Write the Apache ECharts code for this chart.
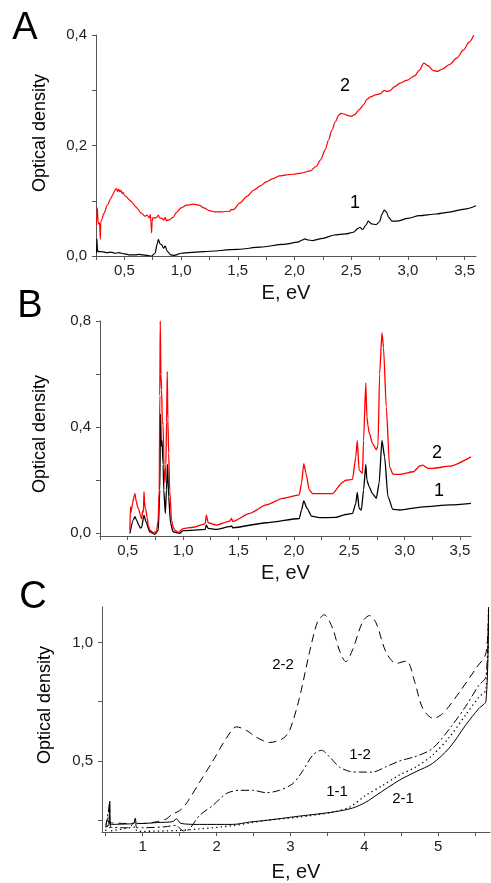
<!DOCTYPE html>
<html>
<head>
<meta charset="utf-8">
<script src="https://cdn.jsdelivr.net/npm/echarts@6/dist/echarts.min.js"></script>
<style>
  html, body { margin: 0; padding: 0; background: #fff; }
  #chart { width: 491px; height: 883px; }
</style>
</head>
<body>
<div id="chart"></div>
<script>
// ---- Panel A: absorption spectra, sample 1 (black) and sample 2 (red)
const aE1  = [0.255, 0.258, 0.262, 0.27, 0.30, 0.35, 0.38, 0.42, 0.45, 0.50, 0.55, 0.60, 0.63, 0.66, 0.70, 0.74, 0.77, 0.79, 0.80, 0.815, 0.83, 0.845, 0.86, 0.88, 0.91, 0.94, 1.0, 1.2, 1.5, 1.7, 1.9, 2.03, 2.07, 2.09, 2.12, 2.16, 2.25, 2.35, 2.45, 2.52, 2.56, 2.575, 2.60, 2.63, 2.65, 2.68, 2.72, 2.75, 2.77, 2.79, 2.81, 2.83, 2.86, 2.90, 3.0, 3.1, 3.25, 3.35, 3.5, 3.6];
const aOD1 = [0.005, 0.031, 0.012, 0.008, 0.008, 0.006, 0.007, 0.005, 0.006, 0.004, 0.002, 0.002, 0.003, 0.002, 0.001, 0.000, 0.005, 0.022, 0.030, 0.022, 0.020, 0.014, 0.018, 0.008, 0.002, 0.001, 0.005, 0.008, 0.012, 0.016, 0.021, 0.025, 0.029, 0.031, 0.029, 0.028, 0.032, 0.038, 0.040, 0.043, 0.050, 0.052, 0.048, 0.056, 0.063, 0.058, 0.057, 0.062, 0.075, 0.083, 0.080, 0.070, 0.063, 0.063, 0.068, 0.073, 0.076, 0.079, 0.085, 0.091];
const aE2  = [0.255, 0.258, 0.262, 0.268, 0.275, 0.282, 0.288, 0.292, 0.30, 0.32, 0.35, 0.38, 0.40, 0.42, 0.43, 0.44, 0.45, 0.46, 0.47, 0.48, 0.49, 0.50, 0.52, 0.54, 0.56, 0.58, 0.60, 0.62, 0.64, 0.66, 0.68, 0.70, 0.72, 0.73, 0.735, 0.74, 0.745, 0.75, 0.78, 0.80, 0.81, 0.83, 0.85, 0.86, 0.87, 0.90, 0.93, 0.96, 1.00, 1.05, 1.11, 1.16, 1.20, 1.25, 1.30, 1.36, 1.43, 1.44, 1.46, 1.52, 1.58, 1.64, 1.70, 1.75, 1.81, 1.87, 1.93, 1.99, 2.06, 2.14, 2.19, 2.23, 2.27, 2.30, 2.33, 2.36, 2.39, 2.41, 2.44, 2.47, 2.50, 2.53, 2.57, 2.61, 2.64, 2.67, 2.72, 2.76, 2.78, 2.79, 2.81, 2.84, 2.88, 2.93, 2.99, 3.06, 3.10, 3.14, 3.18, 3.22, 3.26, 3.30, 3.37, 3.43, 3.49, 3.54, 3.58];
const aOD2 = [0.056, 0.075, 0.087, 0.062, 0.058, 0.060, 0.030, 0.062, 0.066, 0.077, 0.092, 0.104, 0.112, 0.120, 0.122, 0.117, 0.121, 0.116, 0.119, 0.113, 0.115, 0.110, 0.107, 0.102, 0.099, 0.094, 0.089, 0.085, 0.079, 0.076, 0.072, 0.074, 0.069, 0.075, 0.060, 0.042, 0.062, 0.069, 0.069, 0.074, 0.069, 0.068, 0.065, 0.070, 0.064, 0.066, 0.070, 0.079, 0.087, 0.092, 0.094, 0.092, 0.087, 0.082, 0.080, 0.080, 0.081, 0.084, 0.084, 0.096, 0.108, 0.119, 0.127, 0.134, 0.140, 0.145, 0.147, 0.148, 0.150, 0.154, 0.162, 0.174, 0.192, 0.210, 0.228, 0.243, 0.255, 0.258, 0.257, 0.254, 0.253, 0.256, 0.265, 0.274, 0.284, 0.288, 0.292, 0.294, 0.298, 0.300, 0.298, 0.299, 0.306, 0.313, 0.318, 0.326, 0.336, 0.349, 0.344, 0.336, 0.334, 0.338, 0.347, 0.358, 0.373, 0.387, 0.400];

// ---- Panel B
const bE1  = [0.52, 0.55, 0.566, 0.58, 0.60, 0.615, 0.626, 0.647, 0.665, 0.70, 0.745, 0.776, 0.79, 0.797, 0.803, 0.81, 0.82, 0.826, 0.84, 0.85, 0.86, 0.87, 0.887, 0.91, 0.97, 1.0, 1.2, 1.21, 1.227, 1.3, 1.42, 1.437, 1.45, 1.75, 2.05, 2.07, 2.09, 2.12, 2.16, 2.23, 2.38, 2.47, 2.53, 2.56, 2.573, 2.59, 2.61, 2.63, 2.65, 2.66, 2.68, 2.71, 2.745, 2.77, 2.796, 2.82, 2.85, 2.895, 2.955, 3.165, 3.41, 3.6];
const bOD1 = [0.000, 0.050, 0.063, 0.050, 0.031, 0.020, 0.022, 0.069, 0.044, 0.006, -0.004, 0.012, 0.163, 0.450, 0.330, 0.350, 0.260, 0.163, 0.075, 0.163, 0.260, 0.138, 0.038, 0.006, 0.000, 0.010, 0.015, 0.031, 0.019, 0.015, 0.025, 0.028, 0.021, 0.040, 0.056, 0.088, 0.122, 0.094, 0.065, 0.059, 0.060, 0.071, 0.075, 0.113, 0.154, 0.094, 0.088, 0.163, 0.260, 0.200, 0.176, 0.150, 0.132, 0.188, 0.350, 0.288, 0.138, 0.090, 0.088, 0.100, 0.107, 0.113];
const bE2  = [0.52, 0.525, 0.53, 0.535, 0.545, 0.555, 0.566, 0.575, 0.59, 0.60, 0.615, 0.626, 0.635, 0.642, 0.647, 0.652, 0.658, 0.665, 0.675, 0.686, 0.70, 0.73, 0.76, 0.775, 0.785, 0.79, 0.794, 0.80, 0.806, 0.813, 0.82, 0.828, 0.836, 0.845, 0.851, 0.857, 0.863, 0.87, 0.88, 0.896, 0.91, 0.926, 0.956, 1.0, 1.09, 1.2, 1.21, 1.227, 1.3, 1.42, 1.437, 1.45, 1.6, 1.75, 1.9, 2.05, 2.07, 2.09, 2.11, 2.14, 2.17, 2.35, 2.44, 2.47, 2.53, 2.56, 2.573, 2.59, 2.62, 2.63, 2.65, 2.66, 2.67, 2.68, 2.71, 2.745, 2.76, 2.775, 2.796, 2.81, 2.835, 2.865, 2.895, 2.955, 3.08, 3.135, 3.165, 3.21, 3.255, 3.41, 3.6];
const bOD2 = [0.012, 0.100, 0.080, 0.090, 0.115, 0.135, 0.150, 0.125, 0.100, 0.090, 0.068, 0.055, 0.085, 0.080, 0.157, 0.120, 0.095, 0.088, 0.060, 0.030, 0.012, 0.003, 0.006, 0.050, 0.165, 0.520, 0.800, 0.600, 0.540, 0.420, 0.410, 0.250, 0.190, 0.260, 0.420, 0.610, 0.430, 0.300, 0.160, 0.050, 0.025, 0.012, 0.003, 0.018, 0.023, 0.036, 0.069, 0.040, 0.031, 0.046, 0.056, 0.044, 0.075, 0.107, 0.132, 0.145, 0.190, 0.263, 0.226, 0.163, 0.150, 0.150, 0.192, 0.200, 0.203, 0.288, 0.350, 0.238, 0.226, 0.350, 0.567, 0.440, 0.405, 0.380, 0.339, 0.315, 0.330, 0.600, 0.756, 0.700, 0.476, 0.250, 0.223, 0.222, 0.232, 0.253, 0.257, 0.245, 0.245, 0.253, 0.288];

// ---- Panel C: four spectra
const cE22  = [0.50, 0.53, 0.55, 0.56, 0.60, 0.80, 0.88, 0.90, 0.92, 1.00, 1.20, 1.32, 1.40, 1.50, 1.59, 1.77, 1.95, 2.13, 2.27, 2.40, 2.54, 2.72, 2.90, 2.99, 3.12, 3.26, 3.37, 3.46, 3.57, 3.66, 3.75, 3.84, 3.98, 4.07, 4.16, 4.29, 4.43, 4.57, 4.68, 4.79, 4.93, 5.06, 5.29, 5.51, 5.645, 5.68];
const cOD22 = [0.230, 0.260, 0.326, 0.240, 0.238, 0.236, 0.238, 0.255, 0.237, 0.236, 0.244, 0.255, 0.275, 0.290, 0.320, 0.410, 0.500, 0.595, 0.644, 0.630, 0.600, 0.578, 0.595, 0.630, 0.764, 0.962, 1.090, 1.117, 1.060, 0.969, 0.919, 0.969, 1.090, 1.114, 1.082, 0.962, 0.912, 0.922, 0.835, 0.722, 0.680, 0.700, 0.792, 0.891, 0.955, 1.150];
const cE12  = [0.50, 0.55, 0.57, 0.80, 0.90, 0.92, 1.00, 1.30, 1.45, 1.55, 1.60, 1.77, 1.95, 2.13, 2.31, 2.49, 2.67, 2.85, 3.03, 3.17, 3.30, 3.42, 3.53, 3.66, 3.80, 3.93, 4.11, 4.29, 4.47, 4.70, 4.92, 5.15, 5.37, 5.55, 5.645, 5.68];
const cOD12 = [0.220, 0.300, 0.220, 0.218, 0.240, 0.218, 0.218, 0.222, 0.228, 0.205, 0.206, 0.270, 0.312, 0.362, 0.376, 0.376, 0.366, 0.376, 0.404, 0.460, 0.524, 0.545, 0.517, 0.475, 0.456, 0.453, 0.453, 0.475, 0.499, 0.520, 0.552, 0.635, 0.730, 0.820, 0.855, 1.150];
const cE11  = [0.50, 0.55, 0.57, 0.90, 0.92, 1.00, 1.455, 1.77, 2.22, 2.67, 3.12, 3.57, 3.80, 4.02, 4.25, 4.47, 4.70, 4.92, 5.15, 5.37, 5.55, 5.645, 5.68];
const cOD11 = [0.205, 0.250, 0.205, 0.220, 0.205, 0.203, 0.206, 0.213, 0.227, 0.249, 0.263, 0.284, 0.305, 0.355, 0.397, 0.440, 0.475, 0.524, 0.600, 0.694, 0.770, 0.800, 1.150];
const cE21  = [0.50, 0.54, 0.555, 0.565, 0.60, 0.80, 0.88, 0.90, 0.92, 1.00, 1.20, 1.41, 1.455, 1.52, 1.77, 2.22, 2.45, 2.67, 3.12, 3.57, 3.84, 4.02, 4.16, 4.47, 4.70, 4.92, 5.15, 5.37, 5.55, 5.645, 5.68];
const cOD21 = [0.220, 0.230, 0.330, 0.230, 0.232, 0.234, 0.236, 0.258, 0.236, 0.236, 0.240, 0.244, 0.256, 0.236, 0.232, 0.232, 0.242, 0.249, 0.267, 0.284, 0.301, 0.326, 0.355, 0.418, 0.455, 0.489, 0.555, 0.651, 0.722, 0.752, 1.150];

// Tick and label positions for each axis
const aXTicks = [0.25, 0.5, 0.75, 1.0, 1.25, 1.5, 1.75, 2.0, 2.25, 2.5, 2.75, 3.0, 3.25, 3.5];
const aXLabels = [0.5, 1.0, 1.5, 2.0, 2.5, 3.0, 3.5];
const aYTicks = [0, 0.1, 0.2, 0.3, 0.4];
const aYLabels = [0, 0.2, 0.4];
const bYTicks = [0, 0.2, 0.4, 0.6, 0.8];
const bYLabels = [0, 0.4, 0.8];
const cXTicks = [0.5, 1, 1.5, 2, 2.5, 3, 3.5, 4, 4.5, 5, 5.5];
const cXLabels = [1, 2, 3, 4, 5];
const cYTicks = [0.25, 0.5, 0.75, 1.0];
const cYLabels = [0.5, 1.0];

const zip = (xs, ys) => xs.map((x, i) => [x, ys[i]]);
const comma = d => v => v.toFixed(d).replace('.', ',');

const FONT = 'Liberation Sans, Arial, sans-serif';
const AXIS_COLOR = '#555';

function xAxis(grid, min, max, ticks, labels, dec, gap) {
  return {
    type: 'value', gridIndex: grid, min: min, max: max,
    axisLine: { onZero: false, lineStyle: { color: AXIS_COLOR, width: 1 } },
    axisTick: { customValues: ticks, length: 4, lineStyle: { color: AXIS_COLOR } },
    axisLabel: { customValues: labels, formatter: comma(dec), margin: 7,
                 fontFamily: FONT, fontSize: 15, color: '#222' },
    splitLine: { show: false },
    name: 'E, eV', nameLocation: 'middle', nameGap: gap,
    nameTextStyle: { fontFamily: FONT, fontSize: 20, color: '#111' }
  };
}
function yAxis(grid, min, max, ticks, labels, dec) {
  return {
    type: 'value', gridIndex: grid, min: min, max: max,
    axisLine: { show: true, onZero: false, lineStyle: { color: AXIS_COLOR, width: 1 } },
    axisTick: { show: true, customValues: ticks, length: 4, lineStyle: { color: AXIS_COLOR } },
    axisLabel: { customValues: labels, formatter: comma(dec), margin: 9,
                 fontFamily: FONT, fontSize: 15, color: '#222' },
    splitLine: { show: false }
  };
}
function line(xi, yi, data, color, width, type, smooth, mono) {
  return {
    type: 'line', xAxisIndex: xi, yAxisIndex: yi, data: data,
    showSymbol: false, symbol: 'none', smooth: smooth, smoothMonotone: mono,
    lineStyle: { color: color, width: width, type: type },
    animation: false, silent: true
  };
}
function txt(x, y, s, size, rot) {
  return {
    type: 'text', x: x, y: y, rotation: rot || 0, silent: true,
    style: { text: s, fontFamily: FONT, fontSize: size, fill: '#000',
             align: 'center', verticalAlign: 'middle' }
  };
}

const chart = echarts.init(document.getElementById('chart'), null, { renderer: 'canvas' });
chart.setOption({
  animation: false,
  backgroundColor: '#fff',
  grid: [
    { left: 96,  top: 35,  width: 380, height: 221, outerBoundsMode: 'none' },
    { left: 100, top: 321, width: 371, height: 215, outerBoundsMode: 'none' },
    { left: 102, top: 607, width: 388, height: 225, outerBoundsMode: 'none' }
  ],
  xAxis: [
    xAxis(0, 0.25, 3.6, aXTicks, aXLabels, 1, 27),
    xAxis(1, 0.25, 3.6, aXTicks, aXLabels, 1, 27),
    xAxis(2, 0.45, 5.7, cXTicks, cXLabels, 0, 30)
  ],
  yAxis: [
    yAxis(0, 0, 0.4, aYTicks, aYLabels, 1),
    yAxis(1, -0.01, 0.8, bYTicks, bYLabels, 1),
    yAxis(2, 0.2, 1.15, cYTicks, cYLabels, 1)
  ],
  series: [
    line(0, 0, zip(aE1, aOD1), '#000', 1.2, 'solid', 0.3, 'x'),
    line(0, 0, zip(aE2, aOD2), '#ff0000', 1.2, 'solid', 0.3, 'x'),
    line(1, 1, zip(bE1, bOD1), '#000', 1.3, 'solid', 0.2, 'x'),
    line(1, 1, zip(bE2, bOD2), '#ff0000', 1.3, 'solid', 0.2, 'x'),
    line(2, 2, zip(cE22, cOD22), '#000', 1, [8, 5], 0.3),
    line(2, 2, zip(cE12, cOD12), '#000', 1, [8, 3, 2, 3], 0.3),
    line(2, 2, zip(cE11, cOD11), '#000', 1.3, [1.3, 3.2], 0.3),
    line(2, 2, zip(cE21, cOD21), '#000', 1, 'solid', 0.3)
  ],
  graphic: [
    txt(25, 29, 'A', 38), txt(30, 307, 'B', 38), txt(33, 598, 'C', 38),
    txt(40, 133, 'Optical density', 18, Math.PI / 2),
    txt(40, 434, 'Optical density', 18, Math.PI / 2),
    txt(45, 705, 'Optical density', 18, Math.PI / 2),
    txt(345, 86, '2', 18), txt(355, 203, '1', 18),
    txt(437, 453, '2', 18), txt(439, 491, '1', 18),
    txt(283, 665, '2-2', 15), txt(360, 755, '1-2', 15),
    txt(337, 792, '1-1', 15), txt(403, 799, '2-1', 15)
  ]
});
</script>
</body>
</html>
